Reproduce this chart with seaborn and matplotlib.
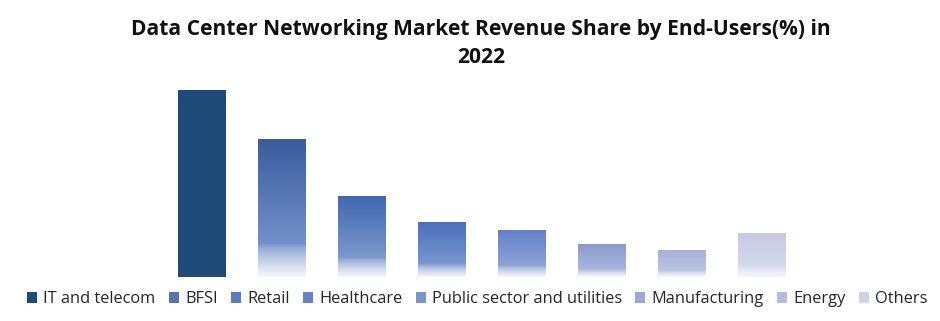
import numpy as np
import pandas as pd
import matplotlib
matplotlib.use("Agg")
import matplotlib.pyplot as plt
import seaborn as sns
from matplotlib.colors import to_rgb
from matplotlib.patches import Patch

categories = ["IT and telecom", "BFSI", "Retail", "Healthcare",
              "Public sector and utilities", "Manufacturing", "Energy", "Others"]
shares = [30.8, 22.6, 13.3, 8.9, 7.6, 5.3, 4.4, 7.1]

top_colors = ["#1F4B78", "#3A5C9C", "#4068B0", "#4A6FBC", "#6480C6", "#8A9ACE", "#A6B0DA", "#C4C8E4"]
low_colors = ["#1F4B78", "#7391C9", "#7C98CC", "#7A96CE", "#8CA4D6", "#A8B6DE", "#BCC4E4", "#D6DAEC"]
fades = [False, True, True, True, True, True, True, True]

sns.set_theme(style="white")
plt.rcParams['font.family'] = ['Open Sans', 'DejaVu Sans']

fig = plt.figure(figsize=(9.4, 3.21), dpi=100)
ax = fig.add_axes([0.1718, 0.137, 0.6809, 0.605])

df = pd.DataFrame({"cat": categories, "val": shares})
sns.barplot(data=df, x="cat", y="val", order=categories, ax=ax, width=0.5875,
            color="white", saturation=1, errorbar=None)

for i, p in enumerate(ax.patches[:len(categories)]):
    x0 = p.get_x(); w = p.get_width(); h = p.get_height()
    fade_h = 0.24 * h
    n = 300
    ys = np.linspace(h, 0, n)  # top to bottom
    tc = np.array(to_rgb(top_colors[i])); lc = np.array(to_rgb(low_colors[i]))
    white = np.array([0.96, 0.97, 0.985])
    img = np.zeros((n, 2, 3))
    for k, y in enumerate(ys):
        if fades[i] and y < fade_h:
            t = (fade_h - y) / fade_h
            t = t ** 0.7
            c = lc * (1 - t) + white * t
        else:
            if fades[i]:
                t = (h - y) / max(h - fade_h, 1e-6)
            else:
                t = 0
            c = tc * (1 - t) + lc * t
        img[k, :, :] = c
    p.set_facecolor("none"); p.set_edgecolor("none")
    ax.imshow(img, extent=(x0, x0 + w, 0, h), aspect="auto", interpolation="bilinear", zorder=2)

ax.set_xlim(-0.5, 7.5)
ax.set_ylim(0, 32)
ax.set_axis_off()

fig.suptitle("Data Center Networking Market Revenue Share by End-Users(%) in\n2022",
             fontsize=15.15, fontweight="bold", y=0.94, x=0.512, color="#111111", linespacing=1.4)

legend_colors = ["#1F4B78", "#5574B0", "#5A7CBE", "#6484C6", "#7A94D0", "#9AA8D6", "#B2BCE0", "#CDD2E8"]
handles = [Patch(facecolor=c, edgecolor="none", label=l) for c, l in zip(legend_colors, categories)]
fig.legend(handles=handles, loc="center", bbox_to_anchor=(0.508, 0.068), ncol=8, frameon=False,
           fontsize=11.8, handlelength=0.6, handleheight=0.6, handletextpad=0.4,
           columnspacing=0.8, borderaxespad=0, borderpad=0)

fig.savefig("out.png", dpi=100)
